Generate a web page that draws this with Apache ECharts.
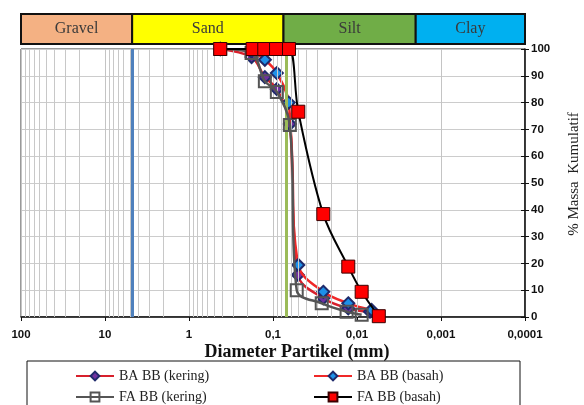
<!DOCTYPE html>
<html><head><meta charset="utf-8">
<script src="https://cdn.jsdelivr.net/npm/echarts@6/dist/echarts.min.js"></script>
<style>html,body{margin:0;padding:0;background:#fff}#c{width:584px;height:405px}</style>
</head><body><div id="c"></div>
<script>
// ---- data ----
const xTickLabels = {'2':'100','1':'10','0':'1','-1':'0,1','-2':'0,01','-3':'0,001','-4':'0,0001'};
const yTicks = [0,10,20,30,40,50,60,70,80,90,100];
const zoneNames = ['Gravel','Sand','Silt','Clay'];
const zoneEdges = [100, 4.75, 0.075, 0.002, 0.0001];
const zoneColors = ['#f4b183','#ffff00','#70ad47','#00b0f0'];
const xTitle = 'Diameter Partikel (mm)';
const yTitle = '% Massa  Kumulatif';

const baKeringD = [0.425, 0.18, 0.125, 0.09, 0.063, 0.0505, 0.0252, 0.0127, 0.0070];
const baKeringP = [100, 97, 89.5, 85, 72, 15.7, 7, 3.2, 2];
const baBasahD  = [0.425, 0.18, 0.125, 0.09, 0.065, 0.050, 0.0252, 0.0127, 0.0067];
const baBasahP  = [100, 99, 96, 91, 80, 19.4, 9.4, 5.1, 2.6];
const faKeringD = [0.425, 0.18, 0.125, 0.09, 0.063, 0.0522, 0.0263, 0.0133, 0.0088];
const faKeringP = [100, 98.5, 88, 84, 71.6, 10, 5.1, 2, 0.8];
const faBasahD  = [0.425, 0.175, 0.127, 0.092, 0.0645, 0.050, 0.0252, 0.0127, 0.0088, 0.0055];
const faBasahP  = [100, 100, 100, 100, 100, 76.6, 38.4, 18.8, 9.4, 0.3];

const names = ['BA BB (kering)','BA BB (basah)','FA BB (kering)','FA BB (basah)'];
const refLines = [{v:4.75,c:'#4f81bd'},{v:0.075,c:'#9bbb59'},{v:0.002,c:'#4f81bd'}];

// ---- build ----
const pair = (d,p)=>d.map((x,i)=>[x,p[i]]);
const minorVals = [];
for (let k=-4;k<2;k++) for (let m=2;m<=9;m++) minorVals.push(+(m*Math.pow(10,k)).toPrecision(3));

const serif = 'Liberation Serif';
const sans = 'Liberation Sans';
const chart = echarts.init(document.getElementById('c'), null, {renderer:'canvas'});

const lbl = v => { const k = Math.round(Math.log10(v)); return xTickLabels[String(k)] || ''; };

chart.setOption({
  animation:false,
  backgroundColor:'#fff',
  grid:[
    {left:21, right:59, top:49, bottom:88, containLabel:false, outerBoundsMode:'none',
     show:true, borderColor:'#333', borderWidth:1, backgroundColor:'transparent'},
    {left:21, right:59, top:14, height:30, containLabel:false, outerBoundsMode:'none'}
  ],
  xAxis:[
    {type:'log', gridIndex:0, min:0.0001, max:100, inverse:true, logBase:10,
     axisLine:{show:true, onZero:false, lineStyle:{color:'#111', width:1.5}},
     axisTick:{show:true, length:4, lineStyle:{color:'#111'}},
     axisLabel:{formatter:lbl, fontFamily:sans, fontWeight:'bold', fontSize:11.5, color:'#111', margin:12},
     splitLine:{show:true, lineStyle:{color:'#c4c4c4', width:1}}},
    {type:'log', gridIndex:0, min:0.0001, max:100, inverse:true, logBase:10,
     axisLine:{show:false}, axisLabel:{show:false}, splitLine:{show:false},
     axisTick:{show:true, inside:true, length:4, lineStyle:{color:'#111'}}},
    {type:'log', gridIndex:1, min:0.0001, max:100, inverse:true, show:false}
  ],
  yAxis:[
    {type:'value', gridIndex:0, position:'right', min:0, max:100, interval:10,
     axisLine:{show:true, lineStyle:{color:'#111', width:1.5}},
     axisTick:{show:true, length:4, lineStyle:{color:'#111'}},
     axisLabel:{fontFamily:sans, fontWeight:'bold', fontSize:11.5, color:'#111', margin:6},
     splitLine:{show:true, lineStyle:{color:'#cccccc', width:1}}},
    {type:'value', gridIndex:0, position:'right', min:0, max:100, interval:10,
     axisLine:{show:false}, axisLabel:{show:false}, splitLine:{show:false},
     axisTick:{show:true, inside:true, length:4, lineStyle:{color:'#111'}}},
    {type:'value', gridIndex:1, min:0, max:1, show:false}
  ],
  legend: names.map((n,i)=>({
    data:[n], left: i%2===0 ? 75 : 313, top: i<2 ? 369 : 390,
    itemWidth:38, itemHeight:11, padding:0,
    textStyle:{fontFamily:serif, fontSize:14, color:'#222'}
  })),
  graphic:[
    {type:'rect', shape:{x:27, y:361, width:493, height:60}, style:{fill:'none', stroke:'#111', lineWidth:1}, silent:true},
    {type:'text', x:297, y:352, silent:true,
     style:{text:xTitle, font:'bold 18px "Liberation Serif"', fill:'#111', align:'center', verticalAlign:'middle'}},
    {type:'text', x:574, y:174, rotation:Math.PI/2, silent:true,
     style:{text:yTitle, font:'15px "Liberation Serif"', fill:'#222', align:'center', verticalAlign:'middle'}}
  ],
  series:[
    {type:'scatter', xAxisIndex:0, yAxisIndex:0, data:[], silent:true, z:1,
     markLine:{silent:true, symbol:'none', animation:false, label:{show:false},
       lineStyle:{color:'#c8c8c8', width:1, type:'solid'},
       data: minorVals.map(v=>({xAxis:v}))}},
    {type:'scatter', xAxisIndex:0, yAxisIndex:0, data:[], silent:true, z:2,
     markLine:{silent:true, symbol:'none', animation:false, label:{show:false},
       data: refLines.map(r=>({xAxis:r.v, lineStyle:{color:r.c, width:3, type:'solid'}}))}},
    {type:'scatter', xAxisIndex:2, yAxisIndex:2, data:[], silent:true,
     markArea:{silent:true,
       data: zoneNames.map((n,i)=>[
         {xAxis:zoneEdges[i], yAxis:0, name:n, itemStyle:{color:zoneColors[i], borderColor:'#111', borderWidth:2}},
         {xAxis:zoneEdges[i+1], yAxis:1}]),
       label:{show:true, position:'inside', fontFamily:serif, fontSize:16, color:'#3a3a3a'}}},
    {name:names[0], type:'line', xAxisIndex:0, yAxisIndex:0, data:pair(baKeringD,baKeringP), smooth:0.35,
     symbol:'diamond', symbolSize:12, z:3,
     lineStyle:{color:'#d8202c', width:2.5},
     itemStyle:{color:'#7030a0', borderColor:'#1f2a6b', borderWidth:2}},
    {name:names[1], type:'line', xAxisIndex:0, yAxisIndex:0, data:pair(baBasahD,baBasahP), smooth:0.35,
     symbol:'diamond', symbolSize:12, z:4,
     lineStyle:{color:'#f02828', width:2.5},
     itemStyle:{color:'#1e90e8', borderColor:'#1f2a6b', borderWidth:2}},
    {name:names[2], type:'line', xAxisIndex:0, yAxisIndex:0, data:pair(faKeringD,faKeringP), smooth:0.35,
     symbol:'rect', symbolSize:12, z:5,
     lineStyle:{color:'#555555', width:2.5},
     itemStyle:{color:'rgba(255,255,255,0)', borderColor:'#555555', borderWidth:2}},
    {name:names[3], type:'line', xAxisIndex:0, yAxisIndex:0, data:pair(faBasahD,faBasahP), smooth:0.35,
     symbol:'rect', symbolSize:13, z:6,
     lineStyle:{color:'#000000', width:2},
     itemStyle:{color:'#ff0000', borderColor:'#3a0000', borderWidth:1}}
  ]
});
</script></body></html>
